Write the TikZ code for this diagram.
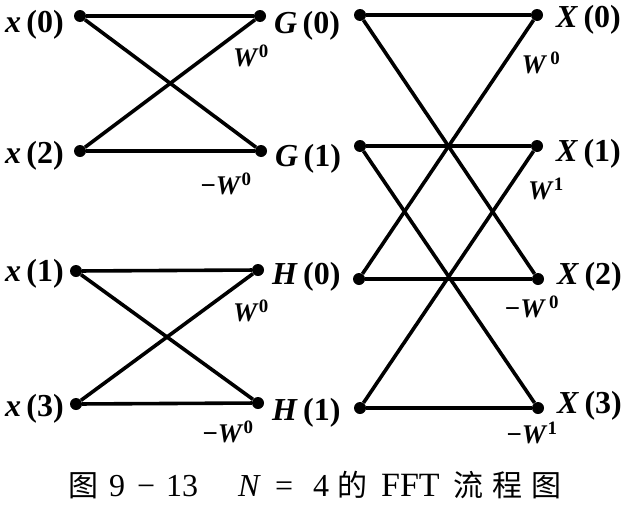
\documentclass[tikz,border=0pt]{standalone}
\usepackage{fontspec}
\setmainfont{Liberation Serif}
\newfontfamily\cjk{Noto Sans CJK SC}
\usepackage{tikz}

\begin{document}
\begin{tikzpicture}[x=1pt,y=-1pt,
    dot/.style={circle,fill=black,inner sep=0pt,minimum size=12pt},
    wire/.style={line width=3.6pt},
    lbl/.style={font=\fontsize{32}{36}\selectfont\bfseries,inner sep=0pt},
    wgt/.style={font=\fontsize{27}{32}\selectfont\bfseries,inner sep=0pt}]

\useasboundingbox (0,0) rectangle (628,506);

% Dots of the first stage
\foreach \n/\x/\y in {a0/80/16, a1/260/16, a2/80/151, a3/261/151,
                      b0/76/271, b1/258/270, b2/76/404, b3/258/403}
    \node[dot] (\n) at (\x,\y) {};

% Dots of the second stage
\foreach \n/\x/\y in {c0/360/15, c1/360/146, c2/359/279, c3/360/408,
                      d0/537/15, d1/537/146, d2/538/279, d3/538/408}
    \node[dot] (\n) at (\x,\y) {};

% First stage butterflies
\draw[wire] (a0) -- (a1);
\draw[wire] (a0) -- (a3);
\draw[wire] (a2) -- (a1);
\draw[wire] (a2) -- (a3);
\draw[wire] (b0) -- (b1);
\draw[wire] (b0) -- (b3);
\draw[wire] (b2) -- (b1);
\draw[wire] (b2) -- (b3);

% Second stage butterflies
\draw[wire] (c0) -- (d0);
\draw[wire] (c0) -- (d2);
\draw[wire] (c2) -- (d0);
\draw[wire] (c2) -- (d2);
\draw[wire] (c1) -- (d1);
\draw[wire] (c1) -- (d3);
\draw[wire] (c3) -- (d1);
\draw[wire] (c3) -- (d3);

% Inputs
\node[lbl,anchor=east] (lx0) at ([xshift=-16pt,yshift=-9pt]a0.center) {\textit{x}\,(0)};
\node[lbl,anchor=east] (lx2) at ([xshift=-16pt,yshift=-5pt]a2.center) {\textit{x}\,(2)};
\node[lbl,anchor=east] (lx1) at ([xshift=-12pt,yshift=-3pt]b0.center) {\textit{x}\,(1)};
\node[lbl,anchor=east] (lx3) at ([xshift=-12pt,yshift=-5pt]b2.center) {\textit{x}\,(3)};

% Intermediate values
\node[lbl,anchor=west] (lg0) at ([xshift=14pt,yshift=-10pt]a1.center) {\textit{G}\,(0)};
\node[lbl,anchor=west] (lg1) at ([xshift=14pt,yshift=-8pt]a3.center) {\textit{G}\,(1)};
\node[lbl,anchor=west] (lh0) at ([xshift=14pt,yshift=-7pt]b1.center) {\textit{H}\,(0)};
\node[lbl,anchor=west] (lh1) at ([xshift=14pt,yshift=-10pt]b3.center) {\textit{H}\,(1)};

% Outputs
\node[lbl,anchor=west] (lX0) at ([xshift=19pt,yshift=-5pt]d0.center) {\textit{X}\,(0)};
\node[lbl,anchor=west] (lX1) at ([xshift=19pt,yshift=-8pt]d1.center) {\textit{X}\,(1)};
\node[lbl,anchor=west] (lX2) at ([xshift=19pt,yshift=2pt]d2.center) {\textit{X}\,(2)};
\node[lbl,anchor=west] (lX3) at ([xshift=19pt,yshift=2pt]d3.center) {\textit{X}\,(3)};

% Twiddle factors
\node[wgt] (w1) at (251,56) {\textit{W}\textsuperscript{0}};
\node[wgt] (w2) at (226,184) {−\textit{W}\textsuperscript{0}};
\node[wgt] (w3) at (251,311) {\textit{W}\textsuperscript{0}};
\node[wgt] (w4) at (228,432) {−\textit{W}\textsuperscript{0}};
\node[wgt] (w5) at (541,63) {\textit{W}\textsuperscript{\,0}};
\node[wgt] (w6) at (546,189) {\textit{W}\textsuperscript{1}};
\node[wgt] (w7) at (532,307) {−\textit{W}\textsuperscript{\,0}};
\node[wgt] (w8) at (532,433) {−\textit{W}\textsuperscript{1}};

% Caption
\node[font=\fontsize{32}{36}\selectfont,inner sep=0pt,anchor=west] (cap) at (68,485)
    {{\cjk\fontsize{30}{34}\selectfont 图}\hspace{11pt}9\hspace{12pt}−\hspace{11pt}13\hspace{40pt}%
     \textit{N}\hspace{14pt}=\hspace{20pt}4\hspace{8pt}{\cjk\fontsize{30}{34}\selectfont 的}\hspace{14pt}%
     {\fontsize{34}{36}\selectfont FFT}\hspace{14pt}%
     {\cjk\fontsize{30}{34}\selectfont 流\hspace{9pt}程\hspace{9pt}图}};

\end{tikzpicture}
\end{document}
